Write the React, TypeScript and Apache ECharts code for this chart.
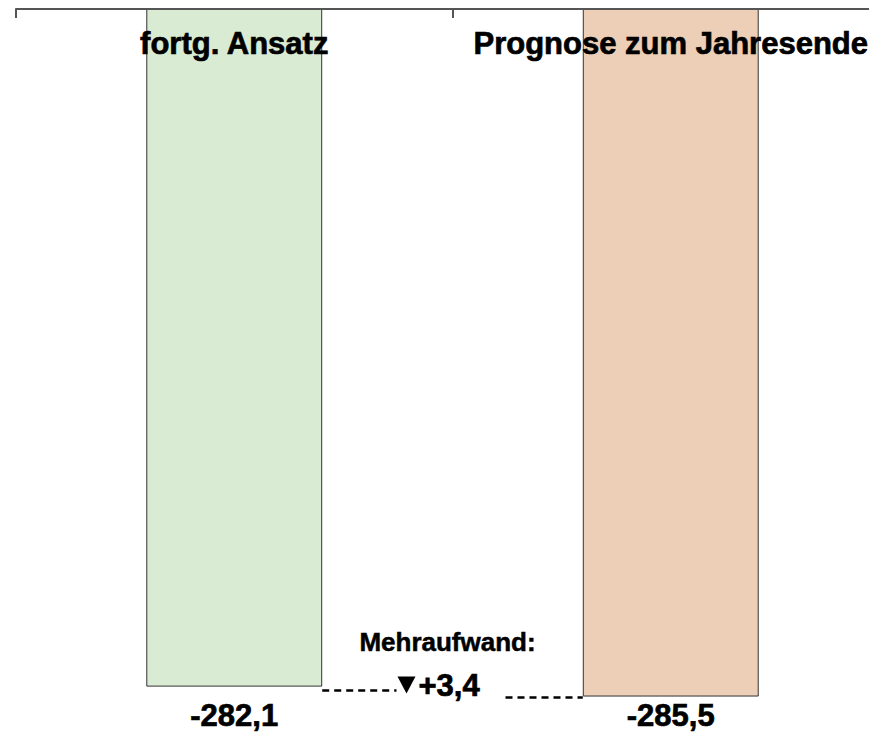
import React, { useEffect, useRef } from "react";
import * as echarts from "echarts";

const categories = ["fortg. Ansatz", "Prognose zum Jahresende"];
const values = [-282.1, -285.5];
const valueLabels = ["-282,1", "-285,5"];
const deltaTitle = "Mehraufwand:";
const deltaLabel = "+3,4";
const barColors = ["#d9ebd3", "#eccfb6"];

const FONT = "'Liberation Sans', Arial, sans-serif";

export default function App() {
  const ref = useRef<HTMLDivElement>(null);

  useEffect(() => {
    if (!ref.current) return;
    const chart = echarts.init(ref.current, undefined, { renderer: "svg" });
    const barPct = 0.403;
    const heavy = { textBorderColor: "#000", textBorderWidth: 0.7 };
    chart.setOption({
      animation: false,
      backgroundColor: "#ffffff",
      grid: { left: 16, right: 0, top: 9, bottom: 40 },
      xAxis: [
        {
          type: "category",
          data: categories,
          position: "top",
          axisLine: { show: true, lineStyle: { color: "#555", width: 2 } },
          axisTick: { show: true, inside: true, interval: 0, length: 9, lineStyle: { color: "#555", width: 2 } },
          axisLabel: {
            inside: true,
            interval: 0,
            hideOverlap: false,
            margin: 19,
            fontSize: 31,
            fontWeight: "bold",
            color: "#000",
            fontFamily: FONT,
            ...heavy,
          },
          z: 10,
        },
        {
          type: "category",
          data: valueLabels,
          position: "bottom",
          axisLine: { show: false },
          axisTick: { show: false },
          axisLabel: {
            interval: 0,
            margin: 2,
            fontSize: 31,
            fontWeight: "bold",
            color: "#000",
            fontFamily: FONT,
            ...heavy,
          },
        },
      ],
      yAxis: {
        type: "value",
        min: -286,
        max: -50,
        show: false,
        splitLine: { show: false },
      },
      series: [
        {
          type: "bar",
          xAxisIndex: 0,
          barWidth: barPct * 100 + "%",
          clip: true,
          data: values.map((v, i) => ({
            value: v,
            itemStyle: { color: barColors[i], borderColor: "#333", borderWidth: 1 },
          })),
        },
      ],
    });

    const p0 = chart.convertToPixel({ xAxisIndex: 0, yAxisIndex: 0 }, [0, values[0]]) as number[];
    const p1 = chart.convertToPixel({ xAxisIndex: 0, yAxisIndex: 0 }, [1, values[1]]) as number[];
    const catW = p1[0] - p0[0];
    const half = (catW * barPct) / 2;
    const mid = (p0[0] + p1[0]) / 2;
    const dash = { stroke: "#000", lineWidth: 2.5, lineDash: [7, 5] };

    chart.setOption({
      graphic: [
        {
          type: "line",
          shape: { x1: p0[0] + half, y1: p0[1] + 4, x2: mid - 56, y2: p0[1] + 4 },
          style: dash,
        },
        {
          type: "line",
          shape: { x1: mid + 53, y1: p1[1] + 1, x2: p1[0] - half, y2: p1[1] + 1 },
          style: dash,
        },
        {
          type: "polygon",
          shape: {
            points: [
              [mid - 55, p0[1] - 10],
              [mid - 37, p0[1] - 10],
              [mid - 46, p0[1] + 7],
            ],
          },
          style: { fill: "#000" },
        },
        {
          type: "text",
          x: mid - 34,
          y: p0[1] - 1,
          style: {
            text: deltaLabel,
            font: "bold 31px " + FONT,
            fill: "#000",
            stroke: "#000",
            lineWidth: 0.7,
            textAlign: "left",
            textVerticalAlign: "middle",
          },
        },
        {
          type: "text",
          x: mid - 5,
          y: p0[1] - 45,
          style: {
            text: deltaTitle,
            font: "bold 26px " + FONT,
            fill: "#000",
            stroke: "#000",
            lineWidth: 0.5,
            textAlign: "center",
            textVerticalAlign: "middle",
          },
        },
      ],
    });

    return () => chart.dispose();
  }, []);

  return (
    <div style={{ position: "absolute", left: 0, top: 0, width: 869, height: 738, overflow: "hidden", background: "#fff" }}>
      <div ref={ref} style={{ width: 889, height: 738 }} />
    </div>
  );
}
